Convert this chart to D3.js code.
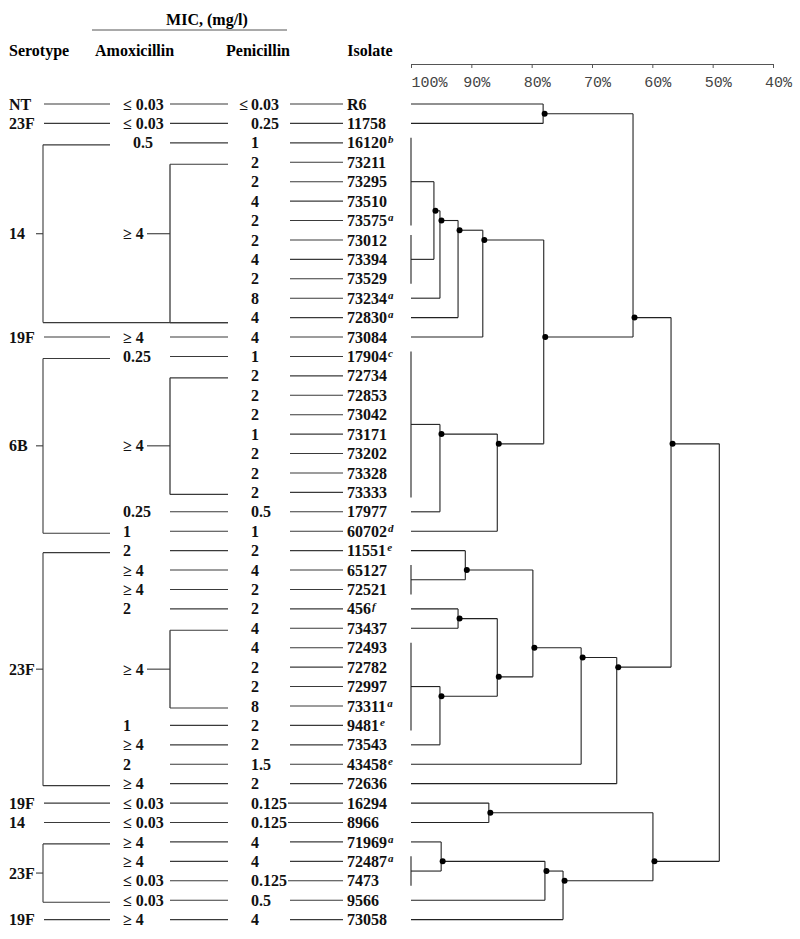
<!DOCTYPE html>
<html><head><meta charset="utf-8">
<script src="https://cdn.jsdelivr.net/npm/d3@7"></script>
<style>body{margin:0;background:#fff}</style>
</head><body>
<svg id="c" width="800" height="939"></svg>
<script>
// ---------------- DATA ----------------
const isolates = ["R6","11758","16120","73211","73295","73510","73575","73012","73394","73529","73234","72830","73084",
  "17904","72734","72853","73042","73171","73202","73328","73333","17977","60702",
  "11551","65127","72521","456","73437","72493","72782","72997","73311","9481","73543","43458","72636",
  "16294","8966","71969","72487","7473","9566","73058"];
const superscripts = ["","","b","","","","a","","","","a","a","",
  "c","","","","","","","","","d",
  "e","","","f","","","","","a","e","","e","",
  "","","a","a","","",""];
const amoxicillin = ["≤ 0.03","≤ 0.03","0.5","≥ 4","≥ 4","≥ 4","≥ 4","≥ 4","≥ 4","≥ 4","≥ 4","≥ 4","≥ 4",
  "0.25","≥ 4","≥ 4","≥ 4","≥ 4","≥ 4","≥ 4","≥ 4","0.25","1",
  "2","≥ 4","≥ 4","2","≥ 4","≥ 4","≥ 4","≥ 4","≥ 4","1","≥ 4","2","≥ 4",
  "≤ 0.03","≤ 0.03","≥ 4","≥ 4","≤ 0.03","≤ 0.03","≥ 4"];
const penicillin = ["≤ 0.03","0.25","1","2","2","4","2","2","4","2","8","4","4",
  "1","2","2","2","1","2","2","2","0.5","1",
  "2","4","2","2","4","4","2","2","8","2","2","1.5","2",
  "0.125","0.125","4","4","0.125","0.5","4"];
const serotypeGroups = [
  {label:"NT", first:0, last:0}, {label:"23F", first:1, last:1}, {label:"14", first:2, last:11},
  {label:"19F", first:12, last:12}, {label:"6B", first:13, last:22}, {label:"23F", first:23, last:35},
  {label:"19F", first:36, last:36}, {label:"14", first:37, last:37}, {label:"23F", first:38, last:41},
  {label:"19F", first:42, last:42}];
const amoxGroups = [{first:3, last:11}, {first:14, last:20}, {first:27, last:31}];
const axisTicks = [100, 90, 80, 70, 60, 50, 40];
const headers = {serotype:"Serotype", amox:"Amoxicillin", pen:"Penicillin", isolate:"Isolate", mic:"MIC, (mg/l)"};

// dendrogram: similarity (%) at each fusion, leaves = row ranges (identical profiles)
const L = (a, b = a) => ({rows: d3.range(a, b + 1)});
const N = (s, ...children) => ({s, children});
const tree = N(48.9,
  N(56.9,
    N(63.2,
      N(78.1, L(0), L(1)),
      N(78.0,
        N(88.1, N(92.2, N(95.2, N(96.2, L(2,6), L(7,9)), L(10)), L(11)), L(12)),
        N(85.7, N(95.2, L(13,20), L(21)), L(22)))),
    N(65.9,
      N(71.8,
        N(79.8,
          N(91.0, L(23), L(24,25)),
          N(85.7, N(92.2, L(26), L(27)), N(95.2, L(28,32), L(33)))),
        L(34)),
      L(35))),
  N(59.9,
    N(87.1, L(36), L(37)),
    N(74.8, N(77.8, N(95.0, L(38), L(39,40)), L(41)), L(42))));

// ---------------- DRAW ----------------
const svg = d3.select("#c");
const serif = "'Liberation Serif','Times New Roman',serif";
const rowY = d3.scaleLinear().domain([0, isolates.length - 1]).range([104, 919.6]);
const simX = d3.scaleLinear().domain([100, 40]).range([411, 773]);
const lineCol = "#3a3a3a";

function hline(x1, x2, y, w = 1.1, col = lineCol) {
  svg.append("line").attr("x1", x1).attr("x2", x2).attr("y1", y).attr("y2", y)
    .attr("stroke", col).attr("stroke-width", w);
}
function vline(x, y1, y2, w = 1.1, col = lineCol) {
  svg.append("line").attr("x1", x).attr("x2", x).attr("y1", y1).attr("y2", y2)
    .attr("stroke", col).attr("stroke-width", w);
}
function txt(x, y, s, anchor = "start", size = 16) {
  return svg.append("text").attr("x", x).attr("y", y).attr("dy", "0.35em")
    .attr("text-anchor", anchor).attr("font-family", serif).attr("font-weight", "bold")
    .attr("font-size", size).attr("fill", "#111").text(s);
}

// headers
svg.append("text").attr("x", 207).attr("y", 25).attr("text-anchor", "middle")
  .attr("font-family", serif).attr("font-weight", "bold").attr("font-size", 16).text(headers.mic);
hline(92, 287, 30, 1, "#555");
[[9, headers.serotype, "start"], [95, headers.amox, "start"], [258, headers.pen, "middle"], [370, headers.isolate, "middle"]]
  .forEach(([x, s, a]) => svg.append("text").attr("x", x).attr("y", 56).attr("text-anchor", a)
    .attr("font-family", serif).attr("font-weight", "bold").attr("font-size", 16).text(s));

// similarity axis
const axis = d3.axisBottom(simX).tickValues(axisTicks).tickSize(4).tickSizeOuter(0).tickFormat(d => d + "%");
const ag = svg.append("g").attr("transform", "translate(0,64)").call(axis);
ag.select(".domain").attr("stroke", "#555").attr("stroke-width", 1);
ag.selectAll(".tick line").attr("stroke", "#555");
ag.selectAll(".tick text").attr("y", 23).attr("dy", 0)
  .attr("x", d => d === 100 ? 18 : 5)
  .attr("font-family", "'Liberation Mono','DejaVu Sans Mono',monospace")
  .attr("font-size", 15).attr("fill", "#444");

const inAmoxGroup = i => amoxGroups.find(g => i >= g.first && i <= g.last);
const bottomOffset = last => amoxGroups.some(a => a.last === last) && serotypeGroups.some(s => s.last === last && s.first !== last) ? 5 : 2;

// serotype column
const labelY = {};
serotypeGroups.forEach(g => {
  if (g.first === g.last) {
    txt(9, rowY(g.first), g.label);
    hline(44, 110, rowY(g.first));
  } else {
    const yt = rowY(g.first) + 2, yb = rowY(g.last) + bottomOffset(g.last);
    const shared = amoxGroups.find(a => a.last === g.last);
    hline(43, 110, yt);
    hline(43, shared ? 228 : 110, yb);
    vline(43, yt, yb);
    const ym = (yt + yb) / 2;
    txt(9, ym, g.label);
    hline(36, 43, ym);
    for (let i = g.first; i <= g.last; i++) labelY[i] = ym;
  }
});

// amoxicillin column
amoxGroups.forEach(g => {
  const yt = rowY(g.first) + 2, yb = rowY(g.last) + bottomOffset(g.last);
  hline(170, 228, yt);
  hline(170, 228, yb);
  vline(170, yt, yb, 1.3);
  const ym = labelY[g.first] !== undefined ? labelY[g.first] : (yt + yb) / 2;
  txt(123, ym, amoxicillin[g.first]);
  hline(147, 170, ym);
});
amoxicillin.forEach((v, i) => {
  if (inAmoxGroup(i)) return;
  txt(v === "0.5" ? 133 : 123, rowY(i), v);
  hline(170, 228, rowY(i));
});

// penicillin column
penicillin.forEach((v, i) => {
  const y = rowY(i);
  if (v.startsWith("≤")) {
    txt(248, y, "≤", "end");
    txt(251, y, v.replace("≤", "").trim());
  } else {
    txt(251, y, v);
  }
  hline(v === "0.125" ? 288 : 290, 343, y);
});

// isolates
isolates.forEach((v, i) => {
  const t = txt(347, rowY(i), v);
  if (superscripts[i]) {
    t.append("tspan").attr("dx", 1).attr("dy", "-0.45em").attr("font-size", 11)
      .attr("font-style", "italic").text(superscripts[i]);
  }
});

// dendrogram
const root = d3.hierarchy(tree, d => d.children);
root.eachAfter(n => {
  n.rows = n.children ? n.children.flatMap(c => c.rows) : n.data.rows;
  n.px = n.children ? simX(n.data.s) : simX(100);
  n.py = d3.mean(n.rows, r => rowY(r));
});
const dg = svg.append("g").attr("stroke", "#222").attr("stroke-width", 1.1).attr("fill", "none");
root.leaves().forEach(l => {
  if (l.rows.length > 1) {
    dg.append("line").attr("x1", l.px).attr("x2", l.px)
      .attr("y1", rowY(l.rows[0]) - 5).attr("y2", rowY(l.rows[l.rows.length - 1]) + 5);
  }
});
root.descendants().forEach(n => {
  if (n.parent) {
    dg.append("line").attr("x1", n.px).attr("x2", n.parent.px).attr("y1", n.py).attr("y2", n.py);
  }
  if (n.children) {
    const ys = n.children.map(c => c.py);
    dg.append("line").attr("x1", n.px).attr("x2", n.px).attr("y1", d3.min(ys)).attr("y2", d3.max(ys));
  }
});
svg.append("g").selectAll("circle")
  .data(root.descendants().filter(n => n.children && n.parent))
  .join("circle").attr("cx", d => d.px + 1.5).attr("cy", d => d.py).attr("r", 3).attr("fill", "#000");
</script>
</body></html>
